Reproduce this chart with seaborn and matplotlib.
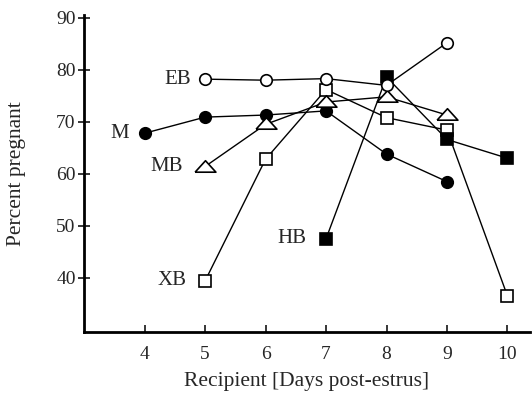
import matplotlib
matplotlib.use("Agg")
import matplotlib.pyplot as plt
import seaborn as sns
import pandas as pd

days_M = [4, 5, 6, 7, 8, 9]
vals_M = [67.8, 70.9, 71.3, 72.1, 63.8, 58.5]
days_EB = [5, 6, 7, 8, 9]
vals_EB = [78.2, 78.0, 78.3, 77.0, 85.2]
days_MB = [5, 6, 7, 8, 9]
vals_MB = [61.4, 69.5, 73.8, 74.8, 71.3]
days_XB = [5, 6, 7, 8, 9, 10]
vals_XB = [39.4, 62.8, 76.2, 70.8, 68.4, 36.5]
days_HB = [7, 8, 9, 10]
vals_HB = [47.5, 78.6, 66.6, 63.0]

xticks = [4, 5, 6, 7, 8, 9, 10]
yticks = [40, 50, 60, 70, 80, 90]

sns.set_style("white")
plt.rcParams['font.family'] = ['Liberation Serif', 'DejaVu Serif']

fig = plt.figure(figsize=(5.32, 3.99), dpi=100)
ax = fig.add_axes([0.158, 0.168, 0.838, 0.794])

flat_tri = [(-1.0, -0.45), (1.0, -0.45), (0.0, 0.65), (-1.0, -0.45)]

series = [
    ("XB", days_XB, vals_XB, "s", "white", 8.3),
    ("HB", days_HB, vals_HB, "s", "black", 8.3),
    ("M", days_M, vals_M, "o", "black", 8.3),
    ("MB", days_MB, vals_MB, flat_tri, "white", 15),
    ("EB", days_EB, vals_EB, "o", "white", 8.3),
]
for name, d, v, m, fc, ms in series:
    df = pd.DataFrame({"day": d, "pct": v})
    sns.lineplot(data=df, x="day", y="pct", ax=ax, color="black", lw=1.0,
                 marker=m, markersize=ms, markerfacecolor=fc,
                 markeredgecolor="black", markeredgewidth=1.2)

# series labels (offset in points to the left of first point)
lab = {"EB": (days_EB[0], vals_EB[0], 10), "M": (days_M[0], vals_M[0], 11),
       "MB": (days_MB[0], vals_MB[0], 16), "XB": (days_XB[0], vals_XB[0], 13),
       "HB": (days_HB[0], vals_HB[0], 14.5)}
for k, (x, y, off) in lab.items():
    ax.annotate(k, (x, y), xytext=(-off, 0), textcoords="offset points",
                ha="right", va="center", fontsize=15)

ax.set_xlim(3, 10.37)
ax.set_ylim(29.6, 90.5)
ax.set_xticks(xticks)
ax.set_yticks(yticks)
ax.tick_params(axis="x", direction="in", length=5, width=1.3, labelsize=14,
               bottom=True, pad=10)
ax.tick_params(axis="y", direction="inout", length=8, width=1.3, labelsize=14,
               left=True, pad=2)
for s in ["top", "right"]:
    ax.spines[s].set_visible(False)
for s in ["left", "bottom"]:
    ax.spines[s].set_linewidth(2)
    ax.spines[s].set_color("black")
ax.set_xlabel("Recipient [Days post-estrus]", fontsize=15.5)
ax.set_ylabel("Percent pregnant", fontsize=15.5)
ax.xaxis.set_label_coords(0.5, -0.125)
ax.yaxis.set_label_coords(-0.13, 0.5)

fig.savefig("out.png", dpi=100)
